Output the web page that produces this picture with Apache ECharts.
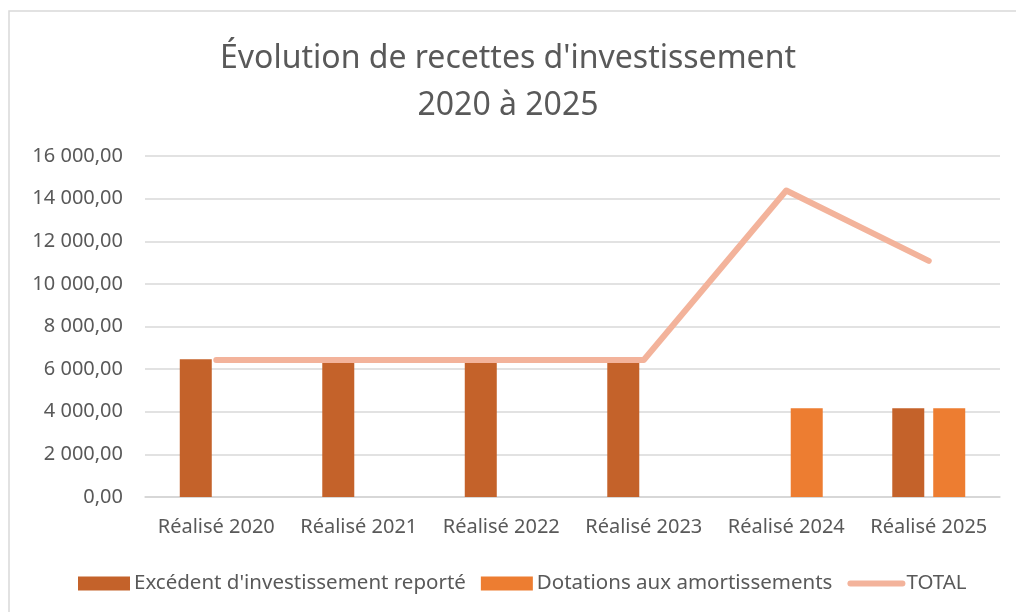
<!DOCTYPE html>
<html>
<head>
<meta charset="utf-8">
<script src="https://cdn.jsdelivr.net/npm/echarts@6/dist/echarts.min.js"></script>
<style>
html,body{margin:0;padding:0;background:#fff;}
#chart{width:1016px;height:612px;}
</style>
</head>
<body>
<div id="chart"></div>
<script>
var categories = ['Réalisé 2020', 'Réalisé 2021', 'Réalisé 2022', 'Réalisé 2023', 'Réalisé 2024', 'Réalisé 2025'];
var excedent = [6460, 6300, 6300, 6300, null, 4160];
var dotations = [null, null, null, null, 4160, 4160];
var total = [6430, 6430, 6430, 6430, 14380, 11080];

//format "16 000,00"
function frNum(v) {
	var parts = v.toFixed(2).split('.');
	var ent = parts[0].replace(/\B(?=(\d{3})+(?!\d))/g, ' ');
	return ent + ',' + parts[1];
}

var txt = '#595959';
var font = 'Noto Sans';
var lineColor = '#F3B39B';
var myChart = echarts.init(document.getElementById('chart'));
var option = {
	backgroundColor: '#fff',
	animation: false,
	graphic: [{
		type: 'rect',
		shape: {x: 9, y: 11, width: 1020, height: 620},
		style: {fill: 'none', stroke: '#d9d9d9', lineWidth: 1.5},
		silent: true
	}],
	title: {
		text: "Évolution de recettes d'investissement\n2020 à 2025",
		left: 'center',
		top: 30,
		textStyle: {
			color: txt, fontFamily: font, fontSize: 32, fontWeight: 'normal', lineHeight: 47
		}
	},
	legend: {
		top: 568,
		left: 73,
		itemWidth: 52,
		itemHeight: 14,
		itemGap: 15,
		textStyle: {color: txt, fontFamily: font, fontSize: 20.5, padding: [0, 0, 0, -1]},
		data: [
			{name: "Excédent d'investissement reporté", icon: 'rect'},
			{name: 'Dotations aux amortissements', icon: 'rect'},
			{name: 'TOTAL', itemStyle: {opacity: 0}, lineStyle: {width: 6, color: lineColor, cap: 'round'}}
		]
	},
	grid: {left: 145, right: 16, top: 156, bottom: 115},
	xAxis: {
		type: 'category',
		data: categories,
		axisTick: {show: false},
		axisLine: {lineStyle: {color: '#d4d4d4', width: 1.5}},
		axisLabel: {color: txt, fontFamily: font, fontSize: 20, margin: 20, interval: 0, hideOverlap: false}
	},
	yAxis: {
		type: 'value',
		min: 0,
		max: 16000,
		interval: 2000,
		axisLine: {show: false},
		axisTick: {show: false},
		splitLine: {lineStyle: {color: '#d9d9d9', width: 1.5}},
		axisLabel: {
			color: txt, fontFamily: font, fontSize: 20, margin: 22,
			formatter: function (v) { return frNum(v); }
		}
	},
	series: [{
		name: "Excédent d'investissement reporté",
		type: 'bar',
		barWidth: 32,
		barGap: '28%',
		itemStyle: {color: '#C4622A'},
		data: excedent
	}, {
		name: 'Dotations aux amortissements',
		type: 'bar',
		barWidth: 32,
		barGap: '28%',
		itemStyle: {color: '#ED7D31'},
		data: dotations
	}, {
		name: 'TOTAL',
		type: 'line',
		symbol: 'none',
		itemStyle: {color: lineColor},
		lineStyle: {color: lineColor, width: 6, cap: 'round', join: 'round'},
		data: total
	}]
};
myChart.setOption(option);
</script>
</body>
</html>
